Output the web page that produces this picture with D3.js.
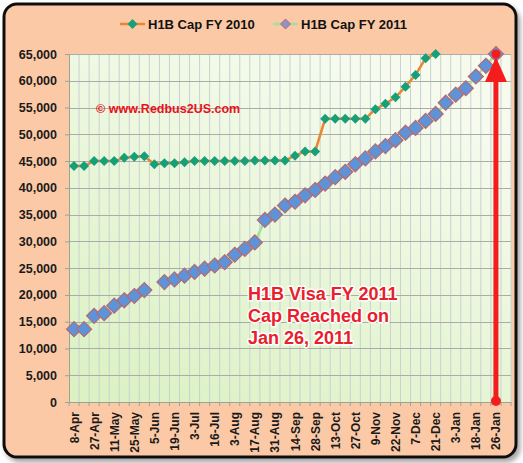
<!DOCTYPE html>
<html>
<head>
<meta charset="utf-8">
<script src="https://cdn.jsdelivr.net/npm/d3@7"></script>
<style>
  body { margin: 0; background: #fff; }
  text { font-family: "Liberation Sans", Arial, sans-serif; }
</style>
</head>
<body>
<script>
// every second category carries a label
const tickLabels = ["8-Apr", "27-Apr", "11-May", "25-May", "5-Jun", "19-Jun", "3-Jul", "16-Jul",
  "3-Aug", "17-Aug", "31-Aug", "14-Sep", "28-Sep", "13-Oct", "27-Oct", "9-Nov", "22-Nov",
  "7-Dec", "21-Dec", "3-Jan", "18-Jan", "26-Jan"];
const categoryCount = 44;

const fy2010 = [44100, 44100, 45000, 45000, 45000, 45600, 45800, 45900, 44400, 44600, 44600,
  44800, 45000, 45000, 45000, 45000, 45000, 45000, 45100, 45100, 45100, 45100, 46000, 46800,
  46800, 52900, 52900, 52900, 52900, 52900, 54700, 55700, 56900, 58900, 61100, 64200, 65000];

const fy2011 = [13600, 13600, 16100, 16600, 18000, 19000, 19800, 20900, null, 22400, 22900,
  23600, 24300, 24900, 25500, 26100, 27500, 28600, 29800, 34000, 35000, 36700, 37400, 38600,
  39600, 40800, 42000, 43000, 44400, 45500, 46800, 47800, 48900, 50300, 51200, 52500, 53800,
  55900, 57400, 58600, 60800, 62800, 65000];

const yTicks = [0, 5000, 10000, 15000, 20000, 25000, 30000, 35000, 40000, 45000, 50000, 55000, 60000, 65000];

const width = 523, height = 463;
const plot = { left: 69, right: 511, top: 54, bottom: 402 };

const svg = d3.select("body").append("svg")
  .attr("width", width)
  .attr("height", height);

const defs = svg.append("defs");
const grad = defs.append("linearGradient").attr("id", "plotbg")
  .attr("x1", 0).attr("y1", 1).attr("x2", 0.6).attr("y2", 0);
grad.append("stop").attr("offset", "0%").attr("stop-color", "#daf1c1");
grad.append("stop").attr("offset", "100%").attr("stop-color", "#f6fbee");

const shadow = defs.append("filter").attr("id", "shadow")
  .attr("x", -0.05).attr("y", -0.05).attr("width", 1.1).attr("height", 1.1);
shadow.append("feDropShadow").attr("dx", 3).attr("dy", 4).attr("stdDeviation", 2.5)
  .attr("flood-color", "#000").attr("flood-opacity", 0.35);

// outer panel
svg.append("rect")
  .attr("x", 4).attr("y", 4).attr("width", 512).attr("height", 453)
  .attr("rx", 13)
  .attr("fill", "#fcc9a6")
  .attr("stroke", "#111")
  .attr("stroke-width", 3)
  .attr("filter", "url(#shadow)");

const x = d3.scaleBand()
  .domain(d3.range(categoryCount))
  .range([plot.left, plot.right]);

const y = d3.scaleLinear()
  .domain([0, 65000])
  .range([plot.bottom, plot.top]);

const cx = i => x(i) + x.bandwidth() / 2;

svg.append("rect")
  .attr("x", plot.left).attr("y", plot.top)
  .attr("width", plot.right - plot.left).attr("height", plot.bottom - plot.top)
  .attr("fill", "url(#plotbg)");

// vertical grid at category boundaries
svg.append("g")
  .selectAll("line")
  .data(d3.range(1, categoryCount + 1))
  .join("line")
  .attr("x1", i => x(i - 1) + x.bandwidth())
  .attr("x2", i => x(i - 1) + x.bandwidth())
  .attr("y1", plot.top).attr("y2", plot.bottom)
  .attr("stroke", "#c9d1d3")
  .attr("stroke-width", 1);

// horizontal grid
svg.append("g")
  .selectAll("line")
  .data(yTicks.slice(1))
  .join("line")
  .attr("x1", plot.left).attr("x2", plot.right)
  .attr("y1", d => Math.round(y(d)) + 0.5).attr("y2", d => Math.round(y(d)) + 0.5)
  .attr("stroke", "#a9ada5")
  .attr("stroke-width", 1);

// y axis
const yAxis = svg.append("g")
  .attr("transform", `translate(${plot.left},0)`)
  .call(d3.axisLeft(y).tickValues(yTicks).tickFormat(d3.format(",")).tickSize(4).tickPadding(8));
yAxis.select(".domain").attr("stroke", "#9aa593");
yAxis.selectAll(".tick line").attr("stroke", "#9aa593");
yAxis.selectAll("text")
  .attr("font-size", 12.5).attr("font-weight", "bold").attr("fill", "#1a1a1a")
  .attr("font-family", "'Liberation Sans', Arial, sans-serif");

// x axis
const xAxis = svg.append("g")
  .attr("transform", `translate(0,${plot.bottom})`)
  .call(d3.axisBottom(x).tickValues([]).tickSizeOuter(0));
xAxis.select(".domain").attr("stroke", "#9aa593");

xAxis.selectAll(".cat-tick")
  .data(d3.range(0, categoryCount + 1))
  .join("line")
  .attr("class", "cat-tick")
  .attr("x1", i => i < categoryCount ? x(i) : plot.right)
  .attr("x2", i => i < categoryCount ? x(i) : plot.right)
  .attr("y1", 0).attr("y2", 4)
  .attr("stroke", "#9aa593");

xAxis.selectAll(".cat-label")
  .data(tickLabels)
  .join("text")
  .attr("class", "cat-label")
  .attr("transform", (d, i) => `translate(${cx(i * 2) + 4.5},10) rotate(-90)`)
  .attr("text-anchor", "end")
  .attr("font-size", 12)
  .attr("font-weight", "bold")
  .attr("fill", "#1a1a1a")
  .text(d => d);

// series lines
const line = d3.line()
  .defined(d => d != null)
  .x((d, i) => cx(i))
  .y(d => y(d));

svg.append("path")
  .datum(fy2011)
  .attr("fill", "none")
  .attr("stroke", "#a2dfa0")
  .attr("stroke-width", 2.5)
  .attr("d", line);

svg.append("path")
  .datum(fy2010)
  .attr("fill", "none")
  .attr("stroke", "#ea8530")
  .attr("stroke-width", 2.5)
  .attr("d", line);

const diamond = r => `M0,${-r}L${r},0L0,${r}L${-r},0Z`;

svg.append("g")
  .selectAll("path")
  .data(fy2010.map((v, i) => ({ v, i })))
  .join("path")
  .attr("transform", d => `translate(${cx(d.i)},${y(d.v)})`)
  .attr("d", diamond(5))
  .attr("fill", "#17a078");

svg.append("g")
  .selectAll("path")
  .data(fy2011.map((v, i) => ({ v, i })).filter(d => d.v != null))
  .join("path")
  .attr("transform", d => `translate(${cx(d.i)},${y(d.v)})`)
  .attr("d", diamond(7.5))
  .attr("fill", "#5d93d8")
  .attr("stroke", "#b46a74")
  .attr("stroke-width", 1.2);

// legend
const legend = svg.append("g");
const legendItems = [
  { label: "H1B Cap FY 2010", line: "#ea8530", fill: "#17a078", x0: 120 },
  { label: "H1B Cap FY 2011", line: "#a2dfa0", fill: "#958fc6", x0: 273 }
];
legendItems.forEach(it => {
  legend.append("line")
    .attr("x1", it.x0).attr("x2", it.x0 + 25)
    .attr("y1", 24).attr("y2", 24)
    .attr("stroke", it.line).attr("stroke-width", 2.5);
  legend.append("path")
    .attr("transform", `translate(${it.x0 + 12.5},24)`)
    .attr("d", diamond(5))
    .attr("fill", it.fill)
    .attr("stroke", it.label.endsWith("2011") ? "#b46a74" : "none");
  legend.append("text")
    .attr("x", it.x0 + 28).attr("y", 29)
    .attr("font-size", 13).attr("font-weight", "bold").attr("fill", "#111")
    .text(it.label);
});

// watermark
svg.append("text")
  .attr("x", 96).attr("y", 113)
  .attr("font-size", 12.5).attr("font-weight", "bold").attr("fill", "#e8121c")
  .text("© www.Redbus2US.com");

// red arrow marking the cap date
const last = fy2011.length - 1;
const ax = cx(last);
svg.append("line")
  .attr("x1", ax).attr("x2", ax)
  .attr("y1", y(0)).attr("y2", y(65000) + 22)
  .attr("stroke", "#f41c1c").attr("stroke-width", 5);
svg.append("path")
  .attr("d", `M${ax},${y(65000) + 3}L${ax + 11},${y(65000) + 28}L${ax - 11},${y(65000) + 28}Z`)
  .attr("fill", "#f41c1c");
svg.append("circle").attr("cx", ax).attr("cy", y(0) - 1).attr("r", 5).attr("fill", "#f41c1c");
svg.append("circle").attr("cx", ax).attr("cy", y(65000)).attr("r", 4.5).attr("fill", "#f41c1c");

// annotation
const note = ["H1B Visa FY 2011", "Cap Reached on", "Jan 26, 2011"];
svg.append("g")
  .selectAll("text")
  .data(note)
  .join("text")
  .attr("x", 248)
  .attr("y", (d, i) => 300 + i * 22)
  .attr("font-size", 18)
  .attr("font-weight", "bold")
  .attr("fill", "#e8202a")
  .attr("stroke", "#fff")
  .attr("stroke-width", 3)
  .attr("paint-order", "stroke")
  .attr("stroke-linejoin", "round")
  .text(d => d);
</script>
</body>
</html>
